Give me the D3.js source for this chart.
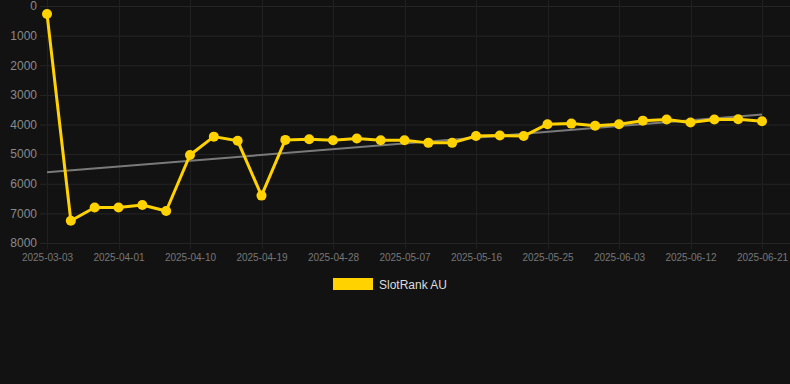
<!DOCTYPE html>
<html>
<head>
<meta charset="utf-8">
<script src="https://cdn.jsdelivr.net/npm/d3@7"></script>
<style>
  html, body { margin: 0; padding: 0; background: #121212; }
  svg { display: block; }
</style>
</head>
<body>
<svg id="chart" width="790" height="384"></svg>
<script>
const categories = [
  "2025-03-03", "2025-03-26", "2025-03-29", "2025-04-01", "2025-04-04", "2025-04-07",
  "2025-04-10", "2025-04-13", "2025-04-16", "2025-04-19", "2025-04-22", "2025-04-25",
  "2025-04-28", "2025-05-01", "2025-05-04", "2025-05-07", "2025-05-10", "2025-05-13",
  "2025-05-16", "2025-05-19", "2025-05-22", "2025-05-25", "2025-05-28", "2025-05-31",
  "2025-06-03", "2025-06-06", "2025-06-09", "2025-06-12", "2025-06-15", "2025-06-18",
  "2025-06-21"
];
const rankValues = [
  270, 7250, 6800, 6800, 6720, 6920,
  5030, 4410, 4550, 6400, 4520, 4500,
  4530, 4470, 4530, 4530, 4620, 4620,
  4390, 4370, 4390, 3990, 3970, 4040,
  3990, 3870, 3830, 3930, 3830, 3820,
  3890
];
const xTickLabels = [
  "2025-03-03", "2025-04-01", "2025-04-10", "2025-04-19", "2025-04-28", "2025-05-07",
  "2025-05-16", "2025-05-25", "2025-06-03", "2025-06-12", "2025-06-21"
];
const yTickValues = [0, 1000, 2000, 3000, 4000, 5000, 6000, 7000, 8000];
const seriesName = "SlotRank AU";

const svg = d3.select("#chart");
const font = "'Liberation Sans', Arial, Helvetica, sans-serif";

const x = d3.scalePoint().domain(categories).range([47, 762]);
const y = d3.scaleLinear().domain([0, 8000]).range([6, 243]);

// grid
const grid = svg.append("g");
grid.selectAll("line.h").data(yTickValues).enter().append("line")
  .attr("x1", 40).attr("x2", 790)
  .attr("y1", d => y(d) + 0.5).attr("y2", d => y(d) + 0.5)
  .attr("stroke", "#252525").attr("stroke-width", 1);
grid.selectAll("line.v").data(xTickLabels).enter().append("line")
  .attr("x1", d => Math.round(x(d)) + 0.5).attr("x2", d => Math.round(x(d)) + 0.5)
  .attr("y1", 0).attr("y2", 249)
  .attr("stroke", "#202020").attr("stroke-width", 1);

// y axis labels
const yAxis = d3.axisLeft(y).tickValues(yTickValues).tickFormat(d3.format("d")).tickSize(0).tickPadding(0);
const gy = svg.append("g").attr("transform", "translate(37,0)").call(yAxis);
gy.select(".domain").remove();
gy.selectAll("text").attr("fill", "#8a8a8a").style("font-family", font).style("font-size", "12px");

// x axis labels
const xAxis = d3.axisBottom(x).tickValues(xTickLabels).tickSize(0).tickPadding(0);
const gx = svg.append("g").attr("transform", "translate(0,254)").call(xAxis);
gx.select(".domain").remove();
gx.selectAll("text").attr("fill", "#777").style("font-family", font).style("font-size", "10px");

// trend line (least squares on index)
const n = rankValues.length;
const idx = d3.range(n);
const mx = d3.mean(idx), my = d3.mean(rankValues);
const slope = d3.sum(idx, i => (i - mx) * (rankValues[i] - my)) / d3.sum(idx, i => (i - mx) ** 2);
const intercept = my - slope * mx;
svg.append("line")
  .attr("x1", x(categories[0])).attr("y1", y(intercept))
  .attr("x2", x(categories[n - 1])).attr("y2", y(intercept + slope * (n - 1)))
  .attr("stroke", "#7a7a7a").attr("stroke-width", 2);

// main line
const line = d3.line().x((d, i) => x(categories[i])).y(d => y(d));
svg.append("path").datum(rankValues)
  .attr("d", line).attr("fill", "none")
  .attr("stroke", "#FFD200").attr("stroke-width", 3).attr("stroke-linejoin", "round");

svg.append("g").selectAll("circle").data(rankValues).enter().append("circle")
  .attr("cx", (d, i) => x(categories[i])).attr("cy", d => y(d))
  .attr("r", 5).attr("fill", "#FFD200");

// legend
const lg = svg.append("g");
lg.append("rect").attr("x", 333).attr("y", 278).attr("width", 40).attr("height", 12).attr("fill", "#FFD200");
lg.append("text").attr("x", 379).attr("y", 288.5).text(seriesName)
  .attr("fill", "#dddddd").style("font-family", font).style("font-size", "12px");
</script>
</body>
</html>
